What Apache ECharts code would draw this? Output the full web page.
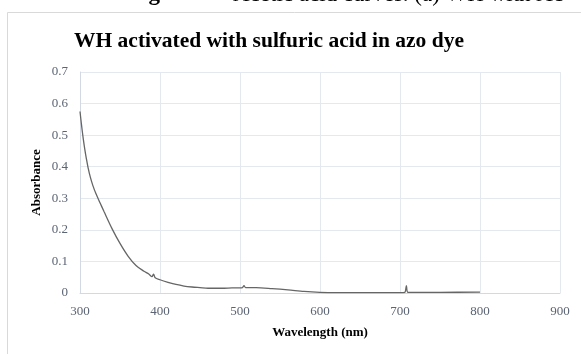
<!DOCTYPE html>
<html>
<head>
<meta charset="utf-8">
<script src="https://cdn.jsdelivr.net/npm/echarts@6/dist/echarts.min.js"></script>
<style>
html,body{margin:0;padding:0;background:#fff;}
#chart{width:581px;height:354px;}
</style>
</head>
<body>
<div id="chart"></div>
<script>
// Wavelength (nm)
const wavelength = [300,302,304,306,308,310,313,316,320,325,330,340,350,360,370,380,386,390,392,394,400,410,420,430,440,450,460,470,480,490,500,503,505,507,520,540,560,580,600,620,650,700,706,708,710,750,800];
// Absorbance
const absorbance = [0.575,0.53,0.49,0.455,0.425,0.398,0.366,0.341,0.314,0.286,0.258,0.204,0.157,0.117,0.087,0.069,0.060,0.052,0.060,0.048,0.042,0.034,0.027,0.022,0.019,0.017,0.015,0.015,0.015,0.016,0.016,0.017,0.023,0.017,0.017,0.014,0.010,0.005,0.002,0.001,0.001,0.001,0.002,0.023,0.002,0.002,0.003];
const xTicks = [300,400,500,600,700,800,900];
const yTicks = [0,0.1,0.2,0.3,0.4,0.5,0.6,0.7];

const titleText = 'WH activated with sulfuric acid in azo dye';
const xTitle = 'Wavelength (nm)';
const yTitle = 'Absorbance';

const serif = '"Liberation Serif", "Times New Roman", serif';
const chart = echarts.init(document.getElementById('chart'), null, {renderer:'canvas'});
chart.setOption({
  animation:false,
  backgroundColor:'#fff',
  graphic:[
    {type:'rect', shape:{x:7.5,y:12.5,width:700,height:500}, style:{fill:'none',stroke:'#d9d9d9',lineWidth:1}, silent:true, z:-1},
    {type:'text', x:128, y:6, style:{
      text:'{b|Figure 19.} Acetic acid curves. (a) WH with Ac',
      font:'23px ' + serif, fill:'#000', verticalAlign:'bottom',
      rich:{b:{fontWeight:'bold', fontSize:23, fontFamily:serif, fill:'#000'}}
    }},
    {type:'text', x:269, y:41, style:{text:titleText, font:'bold 21.5px '+serif, fill:'#000', align:'center', verticalAlign:'middle'}},
    {type:'text', x:320, y:333, style:{text:xTitle, font:'bold 13px '+serif, fill:'#000', align:'center', verticalAlign:'middle'}},
    {type:'text', x:37, y:182.5, rotation:Math.PI/2, style:{text:yTitle, font:'bold 13px '+serif, fill:'#000', align:'center', verticalAlign:'middle'}}
  ],
  grid:{left:80, right:21, top:72, bottom:61, containLabel:false},
  xAxis:{
    type:'value', min:xTicks[0], max:xTicks[xTicks.length-1], interval:100,
    axisLine:{show:true, onZero:false, lineStyle:{color:'#d3d9e3', width:1}},
    axisTick:{show:false},
    axisLabel:{color:'#5c6474', fontFamily:serif, fontSize:13, margin:12},
    splitLine:{show:true, lineStyle:{color:'#e4e8ef', width:1}}
  },
  yAxis:{
    type:'value', min:yTicks[0], max:yTicks[yTicks.length-1], interval:0.1,
    axisLine:{show:true, lineStyle:{color:'#d3d9e3', width:1}},
    axisTick:{show:false},
    axisLabel:{color:'#5c6474', fontFamily:serif, fontSize:13, margin:12,
      formatter:v=>String(Math.round(v*10)/10)},
    splitLine:{show:true, lineStyle:{color:'#e4e8ef', width:1}}
  },
  series:[{
    type:'line', data:wavelength.map((w,i)=>[w,absorbance[i]]),
    showSymbol:false, smooth:0.3,
    lineStyle:{color:'#666666', width:1.3}
  }]
});
</script>
</body>
</html>
